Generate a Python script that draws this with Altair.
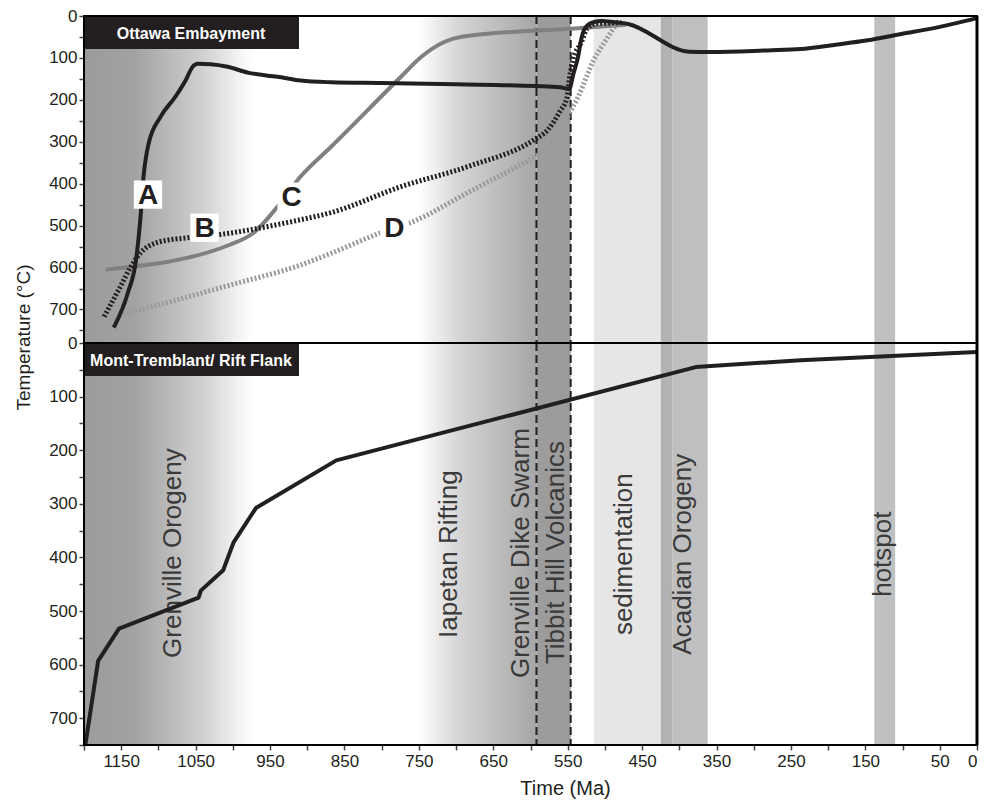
import altair as alt
import pandas as pd

# ---------------- data ----------------
# Top panel: Ottawa Embayment, four cooling paths (time in Ma, temperature in °C)
a_time = [1160, 1141, 1130, 1124, 1120, 1113, 1097, 1077, 1063, 1054, 1047, 1030, 1007, 980, 940,
          909, 868, 800, 700, 593, 560, 548, 542, 536, 532, 528, 519, 505, 490, 469, 387, 358,
          281, 237, 192, 147, 102, 58, 0]
a_temp = [743, 660, 581, 478, 383, 303, 240, 192, 152, 121, 114, 115, 121, 135, 145,
          154, 158, 160, 163, 167, 170, 174, 136, 97, 57, 33, 17, 12, 14, 19, 85, 86,
          82, 79, 69, 58, 43, 29, 5]
b_time = [1173, 1151, 1137, 1124, 1101, 1061, 1016, 953, 909, 868, 774, 684, 595, 577, 560,
          551, 548, 543, 532, 523, 510, 478]
b_temp = [717, 645, 598, 565, 540, 529, 521, 502, 486, 469, 407, 359, 295, 272, 226,
          195, 152, 105, 64, 28, 18, 16]
c_time = [1171, 1003, 972, 940, 909, 868, 774, 747, 716, 694, 536, 472]
c_temp = [605, 545, 517, 455, 383, 312, 145, 98, 62, 50, 29, 21]
d_time = [1147, 1000, 909, 868, 801, 761, 684, 595, 573, 550, 536, 515, 496, 486]
d_temp = [712, 640, 594, 566, 517, 493, 421, 336, 312, 240, 193, 105, 50, 22]

# Bottom panel: Mont-Tremblant / Rift Flank
r_time = [1198, 1181, 1153, 1046, 1043, 1013, 999, 969, 861, 378, 237, 0]
r_temp = [748, 593, 533, 475, 462, 424, 372, 308, 219, 45, 32, 17]

# Curve letters
letter_text = ["A", "B", "C", "D"]
letter_time = [1114, 1038, 921, 783]
letter_temp = [426, 505, 431, 505]

# Event bands (Ma)
grenville_span = [1200, 975]
iapetan_span = [750, 592]
band_names = ["Grenville Dike Swarm", "sedimentation", "Acadian onset", "Acadian Orogeny", "hotspot"]
band_start = [592, 515, 425, 409, 138]
band_end = [546, 425, 409, 362, 110]

# Dashed event lines (Ma)
event_lines = [592, 546]

# Band labels (bottom panel)
event_text = ["Grenville Orogeny", "Iapetan Rifting", "Grenville Dike Swarm",
              "Tibbit Hill Volcanics", "sedimentation", "Acadian Orogeny", "hotspot"]
event_time = [1081, 710, 613, 566, 474, 395, 126]
event_temp = [392, 394, 392, 391, 394, 394, 394]

panel_names = ["Ottawa Embayment", "Mont-Tremblant/ Rift Flank"]

# ---------------- helpers ----------------
W = 893
H_TOP = 327
H_BOT = 402
FONT = "Liberation Sans"
INK = "#231f20"

def curve_df(t, v, name):
    return pd.DataFrame({"time": t, "temp": v, "curve": name, "i": list(range(len(t)))})

x_scale = alt.Scale(domain=[1200, 0], nice=False, zero=False)

x_axis_bottom = alt.Axis(
    values=list(range(0, 1201, 50)),
    labelExpr="(datum.value % 100 == 50 || datum.value == 0) ? datum.label : ''",
    format="d", title="Time (Ma)", titleX=481, titleY=43, titleAlign="center",
    titleBaseline="middle", titleFontSize=20, titleFontWeight="normal", titleFont=FONT,
    titleColor=INK, tickSize=5, labelPadding=3, domain=False, grid=False,
    labelFont=FONT, labelFontSize=17, labelColor=INK, tickColor="#444444", tickWidth=1.5,
)

def y_axis(top):
    kw = dict(
        values=list(range(0, 751, 50)),
        labelExpr="(datum.value % 100 == 0 && datum.value <= 700) ? datum.label : ''",
        format="d", tickSize=5, labelPadding=2, domain=False, grid=False,
        labelFont=FONT, labelFontSize=17, labelColor=INK, tickColor="#444444", tickWidth=1.5,
    )
    if top:
        kw.update(title="Temperature (°C)", titleX=-61, titleY=321, titleAngle=270,
                  titleAlign="center", titleBaseline="middle", titleFontSize=19,
                  titleFontWeight="normal", titleFont=FONT, titleColor=INK)
    else:
        kw.update(title=None)
    return alt.Axis(**kw)


def panel(height, x_axis, y_dom, top, curves, panel_name, with_event_text):
    xs = lambda f: alt.X(f, type="quantitative", scale=x_scale, axis=x_axis, title="Time (Ma)")
    ys = alt.Y("temp:Q", scale=alt.Scale(domain=y_dom, reverse=True, nice=False, zero=False),
               axis=y_axis(top))

    grenville_grad = alt.Chart(pd.DataFrame({"start": [grenville_span[0]], "end": [grenville_span[1]]})).mark_rect(
        fill={"gradient": "linear", "x1": 0, "x2": 1, "y1": 0, "y2": 0,
              "stops": [{"offset": 0, "color": "#9b9b9b"}, {"offset": 0.3, "color": "#a2a2a2"},
                        {"offset": 0.7, "color": "#cfcfcf"}, {"offset": 1, "color": "#ffffff"}]}
    ).encode(x=xs("start"), x2="end:Q", y=alt.value(0), y2=alt.value(height))

    iapetan_grad = alt.Chart(pd.DataFrame({"start": [iapetan_span[0]], "end": [iapetan_span[1]]})).mark_rect(
        fill={"gradient": "linear", "x1": 0, "x2": 1, "y1": 0, "y2": 0,
              "stops": [{"offset": 0, "color": "#ffffff"}, {"offset": 0.35, "color": "#d4d4d4"},
                        {"offset": 1, "color": "#a6a6a6"}]}
    ).encode(x=xs("start"), x2="end:Q", y=alt.value(0), y2=alt.value(height))

    bands = alt.Chart(pd.DataFrame({"band": band_names, "start": band_start, "end": band_end})).mark_rect(
        opacity=1
    ).encode(
        x=xs("start"), x2="end:Q", y=alt.value(0), y2=alt.value(height),
        color=alt.Color("band:N", legend=None,
                        scale=alt.Scale(domain=band_names,
                                        range=["#9c9c9c", "#e6e6e6", "#b2b2b2", "#bfbfbf", "#bfc0c2"])),
    )

    rules = alt.Chart(pd.DataFrame({"time": event_lines})).mark_rule(
        color="#231f20", strokeWidth=2, strokeDash=[8, 4]
    ).encode(x=xs("time"), y=alt.value(0), y2=alt.value(height))

    layers = [grenville_grad, iapetan_grad, bands, rules]

    if with_event_text:
        layers.append(
            alt.Chart(pd.DataFrame({"label": event_text, "time": event_time, "temp": event_temp})).mark_text(
                angle=270, align="center", baseline="middle", font=FONT, fontSize=26, color="#3a3a3a"
            ).encode(x=xs("time"), y=ys, text="label:N")
        )

    for df, color, dash, width, interp in curves:
        mk = dict(color=color, strokeWidth=width, strokeJoin="round", strokeCap="butt",
                  interpolate=interp)
        if dash:
            mk["strokeDash"] = dash
        layers.append(
            alt.Chart(df).mark_line(**mk).encode(x=xs("time"), y=ys, order="i:Q")
        )

    if top:
        ldf = pd.DataFrame({"label": letter_text, "time": letter_time, "temp": letter_temp})
        layers.append(
            alt.Chart(ldf).mark_square(size=800, color="white", opacity=1, filled=True)
            .encode(x=xs("time"), y=ys)
        )
        layers.append(
            alt.Chart(ldf).mark_text(font=FONT, fontSize=28, fontWeight="bold", color=INK,
                                     baseline="middle", align="center", dy=1)
            .encode(x=xs("time"), y=ys, text="label:N")
        )

    pdf = pd.DataFrame({"panel": [panel_name]})
    layers.append(
        alt.Chart(pdf).mark_rect(color=INK).encode(
            x=alt.value(0), x2=alt.value(215), y=alt.value(1), y2=alt.value(33))
    )
    layers.append(
        alt.Chart(pdf).mark_text(font=FONT, fontSize=16, fontWeight="bold",
                                 color="white", align="center", baseline="middle").encode(
            x=alt.value(107), y=alt.value(18), text="panel:N")
    )
    # panel frame on top of everything
    layers.append(
        alt.Chart(pdf).mark_rect(filled=False, stroke="#000000", strokeWidth=2).encode(
            x=alt.value(0), x2=alt.value(W), y=alt.value(0), y2=alt.value(height))
    )
    layers.append(
        alt.Chart(pdf).mark_rule(color="#000000", strokeWidth=3).encode(
            x=alt.value(W), y=alt.value(0), y2=alt.value(height))
    )

    return alt.layer(*layers).properties(width=W, height=height)


top_curves = [
    (curve_df(c_time, c_temp, "C"), "#808080", None, 4, "monotone"),
    (curve_df(d_time, d_temp, "D"), "#9a9a9a", [2, 2], 5, "monotone"),
    (curve_df(b_time, b_temp, "B"), INK, [2, 2], 5, "monotone"),
    (curve_df(a_time, a_temp, "A"), INK, None, 4, "monotone"),
]
bottom_curves = [(curve_df(r_time, r_temp, "R"), INK, None, 4, "linear")]

top = panel(H_TOP, None, [0, 780], True, top_curves, panel_names[0], False)
bottom = panel(H_BOT, x_axis_bottom, [0, 750], False, bottom_curves, panel_names[1], True)

chart = alt.vconcat(top, bottom, spacing=0, bounds="flush").properties(
    padding={"left": 13, "top": 6, "right": 3, "bottom": 2}
).configure_view(
    stroke=INK, strokeWidth=2
).configure(background="white")

chart.save("out.html", embed_options={"renderer": "svg", "actions": False})
